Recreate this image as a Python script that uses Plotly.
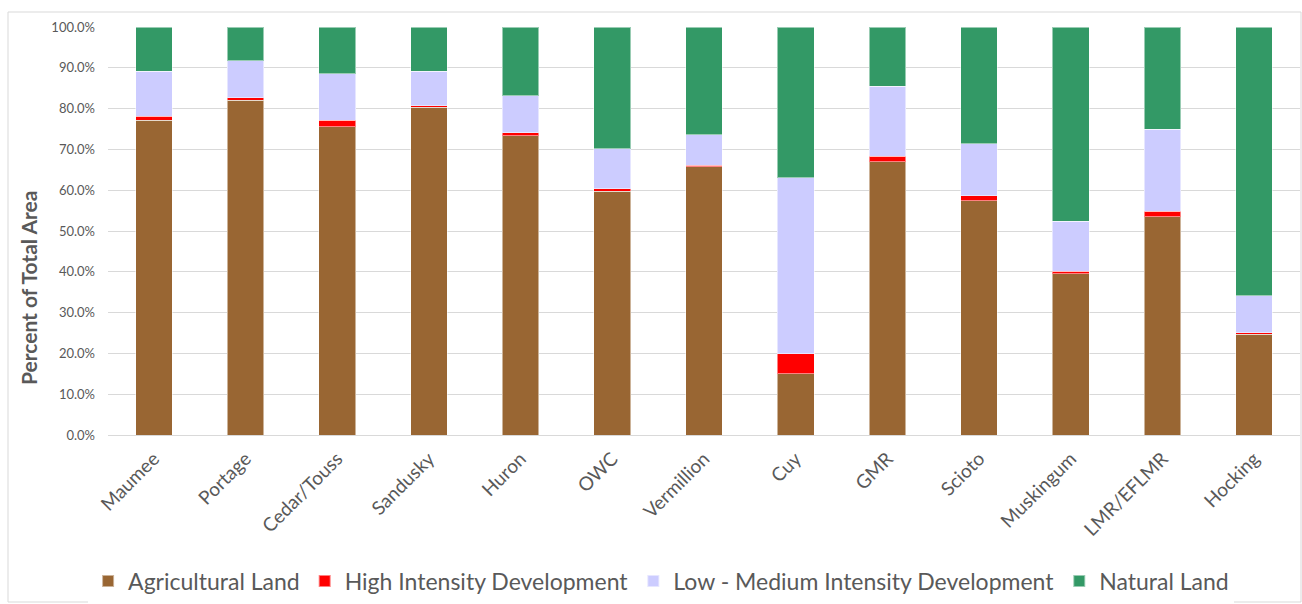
import plotly.graph_objects as go

categories = ["Maumee", "Portage", "Cedar/Touss", "Sandusky", "Huron", "OWC", "Vermillion",
              "Cuy", "GMR", "Scioto", "Muskingum", "LMR/EFLMR", "Hocking"]
agricultural = [77.1, 82.0, 75.6, 80.3, 73.4, 59.7, 65.8, 15.0, 67.0, 57.4, 39.5, 53.5, 24.7]
high_dev = [1.0, 0.7, 1.6, 0.4, 0.7, 0.6, 0.3, 4.9, 1.3, 1.2, 0.6, 1.3, 0.4]
low_med_dev = [11.0, 9.0, 11.3, 8.4, 9.1, 9.8, 7.5, 43.2, 17.2, 12.8, 12.3, 20.2, 9.0]
natural = [10.9, 8.3, 11.5, 10.9, 16.8, 29.9, 26.4, 36.9, 14.5, 28.6, 47.6, 25.0, 65.9]
ytick_vals = [0, 10, 20, 30, 40, 50, 60, 70, 80, 90, 100]
ytick_text = ["0.0%", "10.0%", "20.0%", "30.0%", "40.0%", "50.0%", "60.0%", "70.0%",
              "80.0%", "90.0%", "100.0%"]

series = [
    ("Agricultural Land", agricultural, "#996633"),
    ("High Intensity Development", high_dev, "#FF0000"),
    ("Low - Medium Intensity Development", low_med_dev, "#CCCCFF"),
    ("Natural Land", natural, "#339966"),
]

FONT = "Lato"
fig = go.Figure()
for name, vals, col in series:
    fig.add_trace(go.Bar(
        x=categories, y=vals, name=name,
        marker=dict(color=col, line=dict(color="rgba(255,255,255,0.5)", width=1)),
        width=0.4,
    ))

fig.update_layout(
    barmode="stack",
    width=1302, height=604,
    margin=dict(l=108, r=2, t=27, b=169),
    paper_bgcolor="white", plot_bgcolor="white",
    font=dict(family=FONT, color="#595959"),
    showlegend=True,
    legend=dict(orientation="h", x=0.464, xanchor="center", y=-0.358, yanchor="middle",
                font=dict(size=23, color="#595959"), traceorder="normal",
                itemsizing="constant", itemwidth=30, tracegroupgap=0),
    xaxis=dict(tickangle=-45, tickfont=dict(size=19, color="#595959"),
               showline=False, ticks="", range=[-0.5, 12.5], ticklabelstandoff=8),
    yaxis=dict(range=[0, 100], tickvals=ytick_vals, ticktext=ytick_text,
               tickfont=dict(size=13, color="#595959"), ticklabelstandoff=12,
               gridcolor="#D9D9D9", gridwidth=1, zeroline=True, zerolinecolor="#D9D9D9",
               zerolinewidth=1, showline=False, ticks=""),
)

fig.add_annotation(text="<b>Percent of Total Area</b>", textangle=-90,
                   xref="paper", yref="paper", x=(28 - 108) / 1192, y=(435 - 288) / 408,
                   xanchor="center", yanchor="middle", showarrow=False,
                   font=dict(size=21, color="#595959", family=FONT))

fig.add_shape(type="rect", xref="paper", yref="paper",
              x0=(8 - 108) / 1192, x1=(1301 - 108) / 1192,
              y0=(435 - 602) / 408, y1=(435 - 12) / 408,
              line=dict(color="#D9D9D9", width=1), layer="below")

fig.write_html("out.html")
